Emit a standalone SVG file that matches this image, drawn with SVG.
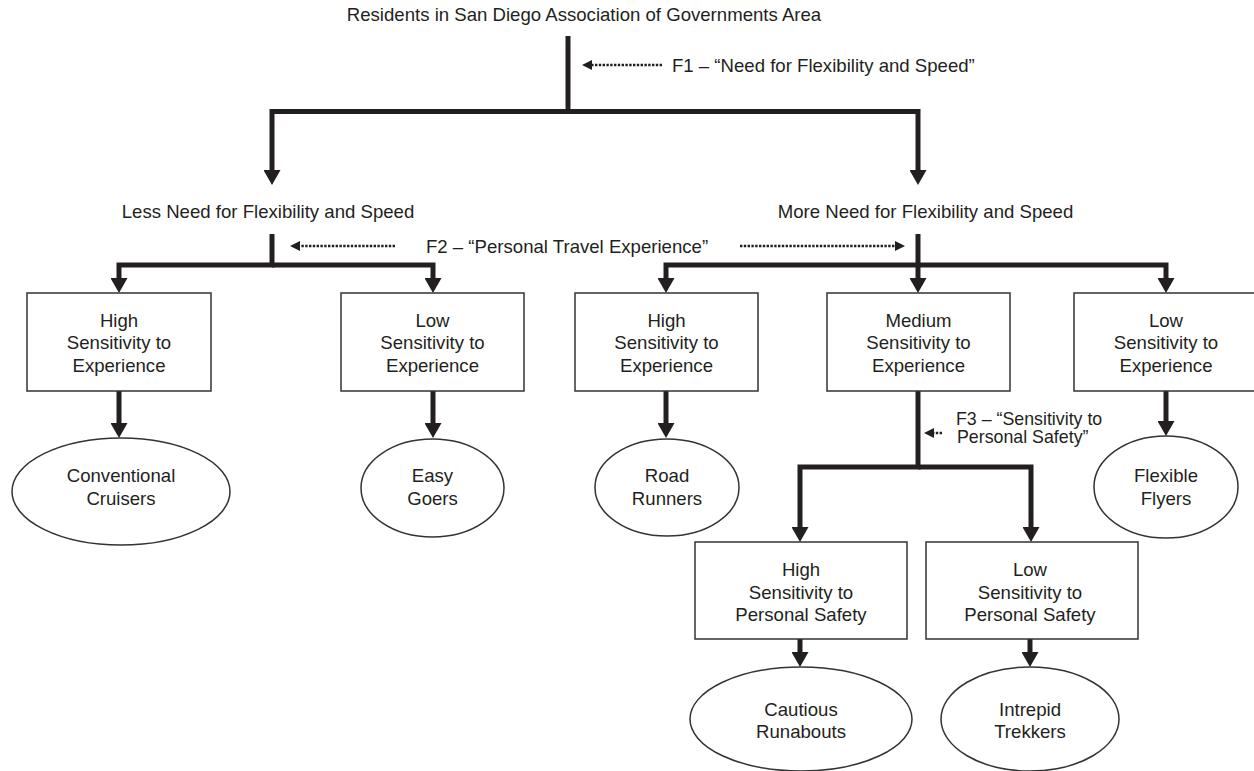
<svg xmlns="http://www.w3.org/2000/svg" width="1254" height="771" viewBox="0 0 1254 771">
<style>
text{font-family:"Liberation Sans",Arial,sans-serif;font-size:18.6px;fill:#231f20}
.c{text-anchor:middle}
.f3{font-size:17.8px}
.box{fill:#fff;stroke:#333;stroke-width:1.5}
.ell{fill:#fff;stroke:#333;stroke-width:1.5}
.thick{fill:none;stroke:#231f20;stroke-width:5;stroke-linejoin:miter}
.dot{fill:none;stroke:#231f20;stroke-width:2.6;stroke-dasharray:2.4 1.4}
</style>
<defs>
<marker id="arr" viewBox="0 0 15 17" refX="0" refY="8.5" markerWidth="15" markerHeight="17" markerUnits="userSpaceOnUse" orient="auto">
<path d="M0,0 L15,8.5 L0,17 z" fill="#231f20"/>
</marker>
<marker id="darr" viewBox="0 0 10 10" refX="0" refY="5" markerWidth="10" markerHeight="10" markerUnits="userSpaceOnUse" orient="auto">
<path d="M0,0 L10,5 L0,10 z" fill="#231f20"/>
</marker>
</defs>

<g id="title">
<text class="c" x="584" y="21">Residents in San Diego Association of Governments Area</text>
</g>

<g id="connectors">
<path class="thick" d="M568,36 V111.5"/>
<path class="thick" d="M568,111.5 H272 V170" marker-end="url(#arr)"/>
<path class="thick" d="M568,111.5 H918 V170" marker-end="url(#arr)"/>
<path class="thick" d="M272,234 V265 H119 V278" marker-end="url(#arr)"/>
<path class="thick" d="M272,265 H433 V278" marker-end="url(#arr)"/>
<path class="thick" d="M918,234 V278" marker-end="url(#arr)"/>
<path class="thick" d="M918,265 H666 V278" marker-end="url(#arr)"/>
<path class="thick" d="M918,265 H1166 V278" marker-end="url(#arr)"/>
<path class="thick" d="M119,391 V423" marker-end="url(#arr)"/>
<path class="thick" d="M433,391 V423" marker-end="url(#arr)"/>
<path class="thick" d="M666,391 V423" marker-end="url(#arr)"/>
<path class="thick" d="M1166,391 V421" marker-end="url(#arr)"/>
<path class="thick" d="M918,391 V467 H800 V527" marker-end="url(#arr)"/>
<path class="thick" d="M918,467 H1031 V527" marker-end="url(#arr)"/>
<path class="thick" d="M800,639 V652" marker-end="url(#arr)"/>
<path class="thick" d="M1030,639 V652" marker-end="url(#arr)"/>
<path class="dot" d="M662,65 H592" marker-end="url(#darr)"/>
<path class="dot" d="M395,246 H300" marker-end="url(#darr)"/>
<path class="dot" d="M740,246 H895" marker-end="url(#darr)"/>
<path class="dot" d="M942,433 H934" marker-end="url(#darr)"/>
</g>

<g id="labels">
<text x="672" y="71.5">F1 – “Need for Flexibility and Speed”</text>
<text x="426" y="253">F2 – “Personal Travel Experience”</text>
<text class="f3" x="956" y="424.5">F3 – “Sensitivity to</text>
<text class="f3" x="957" y="442.5">Personal Safety”</text>
</g>

<g id="less-need">
<text class="c" x="268" y="217.5">Less Need for Flexibility and Speed</text>
</g>
<g id="more-need">
<text class="c" x="925.5" y="217.5">More Need for Flexibility and Speed</text>
</g>

<g id="box-high-exp-less">
<rect class="box" x="27" y="293" width="184" height="98"/>
<text class="c" x="119" y="326.5">High</text>
<text class="c" x="119" y="349">Sensitivity to</text>
<text class="c" x="119" y="371.5">Experience</text>
</g>
<g id="box-low-exp-less">
<rect class="box" x="341" y="293" width="183" height="98"/>
<text class="c" x="432.5" y="326.5">Low</text>
<text class="c" x="432.5" y="349">Sensitivity to</text>
<text class="c" x="432.5" y="371.5">Experience</text>
</g>
<g id="box-high-exp-more">
<rect class="box" x="575" y="293" width="183" height="98"/>
<text class="c" x="666.5" y="326.5">High</text>
<text class="c" x="666.5" y="349">Sensitivity to</text>
<text class="c" x="666.5" y="371.5">Experience</text>
</g>
<g id="box-med-exp-more">
<rect class="box" x="827" y="293" width="183" height="98"/>
<text class="c" x="918.5" y="326.5">Medium</text>
<text class="c" x="918.5" y="349">Sensitivity to</text>
<text class="c" x="918.5" y="371.5">Experience</text>
</g>
<g id="box-low-exp-more">
<rect class="box" x="1074" y="293" width="184" height="98"/>
<text class="c" x="1166" y="326.5">Low</text>
<text class="c" x="1166" y="349">Sensitivity to</text>
<text class="c" x="1166" y="371.5">Experience</text>
</g>

<g id="box-high-safety">
<rect class="box" x="695" y="542" width="212" height="97"/>
<text class="c" x="801" y="576">High</text>
<text class="c" x="801" y="598.5">Sensitivity to</text>
<text class="c" x="801" y="621">Personal Safety</text>
</g>
<g id="box-low-safety">
<rect class="box" x="926" y="542" width="212" height="97"/>
<text class="c" x="1030" y="576">Low</text>
<text class="c" x="1030" y="598.5">Sensitivity to</text>
<text class="c" x="1030" y="621">Personal Safety</text>
</g>

<g id="conventional-cruisers">
<ellipse class="ell" cx="121" cy="491.5" rx="109" ry="53.5"/>
<text class="c" x="121" y="481.5">Conventional</text>
<text class="c" x="121" y="504.5">Cruisers</text>
</g>
<g id="easy-goers">
<ellipse class="ell" cx="432.5" cy="488" rx="71.5" ry="49"/>
<text class="c" x="432.5" y="481.5">Easy</text>
<text class="c" x="432.5" y="504.5">Goers</text>
</g>
<g id="road-runners">
<ellipse class="ell" cx="667" cy="487.5" rx="72" ry="48.5"/>
<text class="c" x="667" y="481.5">Road</text>
<text class="c" x="667" y="504.5">Runners</text>
</g>
<g id="flexible-flyers">
<ellipse class="ell" cx="1166" cy="487" rx="72" ry="51"/>
<text class="c" x="1166" y="481.5">Flexible</text>
<text class="c" x="1166" y="504.5">Flyers</text>
</g>
<g id="cautious-runabouts">
<ellipse class="ell" cx="801" cy="719" rx="111" ry="52"/>
<text class="c" x="801" y="715.5">Cautious</text>
<text class="c" x="801" y="738">Runabouts</text>
</g>
<g id="intrepid-trekkers">
<ellipse class="ell" cx="1030" cy="719" rx="89" ry="52"/>
<text class="c" x="1030" y="715.5">Intrepid</text>
<text class="c" x="1030" y="738">Trekkers</text>
</g>
</svg>
